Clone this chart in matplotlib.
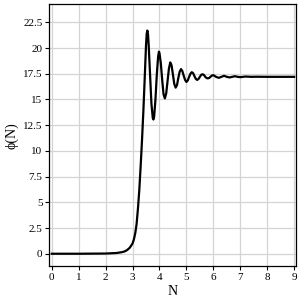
import matplotlib
matplotlib.use('Agg')
import matplotlib.pyplot as plt

# values
N = [0.0, 1.0, 2.0, 2.4, 2.6, 2.7, 2.8, 2.9, 3.0, 3.05, 3.1, 3.15, 3.2, 3.25,
     3.3, 3.35, 3.4, 3.45, 3.5, 3.525, 3.55, 3.575, 3.6, 3.65, 3.7, 3.75, 3.775,
     3.8, 3.85, 3.9, 3.95, 3.98, 4.0, 4.05, 4.1, 4.15, 4.2, 4.25, 4.3, 4.35,
     4.4, 4.45, 4.5, 4.55, 4.6, 4.65, 4.7, 4.75, 4.8, 4.85, 4.9, 4.95, 5.0,
     5.05, 5.1, 5.15, 5.2, 5.25, 5.3, 5.35, 5.4, 5.45, 5.5, 5.55, 5.6, 5.65,
     5.7, 5.75, 5.8, 5.85, 5.9, 5.95, 6.0, 6.1, 6.2, 6.3, 6.4, 6.5, 6.6, 6.7,
     6.8, 6.9, 7.0, 7.2, 7.4, 7.6, 8.0, 8.5, 9.0]
phi = [0.0, 0.0, 0.02, 0.07, 0.15, 0.22, 0.36, 0.6, 1.0, 1.4, 2.0, 2.9, 4.4,
       6.2, 8.5, 11.0, 13.8, 17.0, 20.3, 21.4, 21.7, 21.3, 20.2, 17.4, 14.6,
       13.2, 13.05, 13.3, 15.0, 17.4, 19.2, 19.65, 19.5, 18.5, 16.9, 15.5,
       15.1, 15.6, 16.8, 18.0, 18.6, 18.3, 17.4, 16.5, 16.15, 16.4, 17.1, 17.7,
       17.95, 17.75, 17.3, 16.9, 16.7, 16.85, 17.2, 17.5, 17.65, 17.55, 17.25,
       17.0, 16.9, 17.0, 17.2, 17.4, 17.45, 17.38, 17.2, 17.08, 17.05, 17.1,
       17.22, 17.33, 17.36, 17.2, 17.1, 17.2, 17.3, 17.2, 17.14, 17.2, 17.26,
       17.2, 17.17, 17.23, 17.2, 17.21, 17.2, 17.2, 17.2]
xticks = [0, 1, 2, 3, 4, 5, 6, 7, 8, 9]
yticks = [0, 2.5, 5, 7.5, 10, 12.5, 15, 17.5, 20, 22.5]
ytick_labels = ['0', '2.5', '5', '7.5', '10', '12.5', '15', '17.5', '20', '22.5']

plt.rcParams['font.family'] = ['Liberation Serif', 'DejaVu Serif']

fig = plt.figure(figsize=(3.01, 3.01), dpi=100)
ax = fig.add_axes([0.164, 0.116, 0.818, 0.870])
ax.plot(N, phi, color='black', lw=1.6, solid_joinstyle='round')

ax.set_xlim(-0.09, 9.054)
ax.set_ylim(-1.2, 24.26)
ax.set_xticks(xticks)
ax.set_yticks(yticks)
ax.set_yticklabels(ytick_labels)
ax.tick_params(labelsize=8, length=3, width=0.8, pad=2, colors='black')
ax.grid(True, color='#d4d4d4', lw=0.9)
ax.set_axisbelow(True)
for s in ax.spines.values():
    s.set_linewidth(0.9)

ax.set_xlabel('N', fontsize=10, labelpad=2)
ax.set_ylabel('ϕ(N)', fontsize=10, labelpad=3)

fig.savefig('out.png', dpi=100)
